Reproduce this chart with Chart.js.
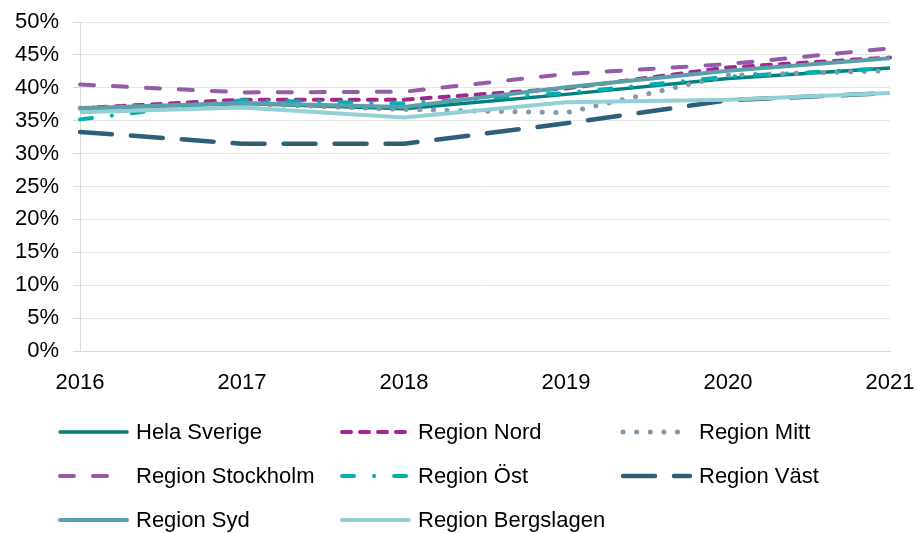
<!DOCTYPE html>
<html>
<head>
<meta charset="utf-8">
<script src="https://cdn.jsdelivr.net/npm/chart.js@4/dist/chart.umd.min.js"></script>
<style>
  html, body { margin: 0; padding: 0; background: #fff; }
  #wrap { width: 917px; height: 533px; }
</style>
</head>
<body>
<div id="wrap"><canvas id="chart" width="917" height="533"></canvas></div>
<script>
// Data (percent)
const years = ['2016', '2017', '2018', '2019', '2020', '2021'];
const helaSverige      = [36.8, 37.6, 36.8, 39.0, 41.4, 43.0];
const regionNord       = [36.9, 38.2, 38.2, 39.9, 43.1, 44.6];
const regionMitt       = [36.9, 37.6, 36.7, 36.2, 41.9, 42.6];
const regionStockholm  = [40.5, 39.3, 39.4, 42.1, 43.6, 46.0];
const regionOst        = [35.2, 38.1, 37.6, 39.2, 41.7, 43.0];
const regionVast       = [33.3, 31.5, 31.5, 34.6, 38.1, 39.2];
const regionSyd        = [36.9, 37.7, 37.1, 40.1, 42.6, 44.5];
const regionBergslagen = [36.3, 37.0, 35.5, 37.8, 38.2, 39.2];
const yTicks = [0, 5, 10, 15, 20, 25, 30, 35, 40, 45, 50];

const FONT = '"Liberation Sans", Arial, sans-serif';

function series(label, data, color, dash, width, order, swatchLen) {
    return {
        label, data,
        borderColor: color,
        backgroundColor: color,
        borderWidth: width,
        borderDash: dash,
        borderCapStyle: dash.length ? 'round' : 'butt',
        borderJoinStyle: 'round',
        pointRadius: 0,
        tension: 0,
        fill: false,
        order,
        swatchLen
    };
}

const datasets = [
    series('Hela Sverige', helaSverige, '#00807f', [], 3.5, 7, 69),
    series('Region Nord', regionNord, '#a3258f', [9, 9], 4, 6, 69),
    series('Region Mitt', regionMitt, '#7f9aab', [0.1, 13.5], 5, 5, 58),
    series('Region Stockholm', regionStockholm, '#955aa8', [14, 19], 4, 4, 50),
    series('Region Öst', regionOst, '#00b0b0', [12, 20, 0.1, 20], 4, 3, 69),
    series('Region Väst', regionVast, '#2c6079', [32, 19], 4.5, 2, 69),
    series('Region Syd', regionSyd, '#5aa0a8', [], 4, 1, 69),
    series('Region Bergslagen', regionBergslagen, '#92d0d5', [], 4, 0, 69)
];

// Legend laid out in a fixed 3-column grid like the original
const legendRows = [432, 476, 520];
const legendCols = [58, 340, 621];

const gridLegend = {
    id: 'gridLegend',
    afterDraw(chart) {
        const c = chart.ctx;
        chart.data.datasets.forEach((ds, i) => {
            const x = legendCols[i % 3];
            const y = legendRows[Math.floor(i / 3)];
            c.save();
            c.strokeStyle = ds.borderColor;
            c.lineWidth = ds.borderWidth;
            c.lineCap = 'round';
            c.setLineDash(ds.borderDash);
            c.beginPath();
            c.moveTo(x + 2, y);
            c.lineTo(x + ds.swatchLen, y);
            c.stroke();
            c.restore();

            c.save();
            c.fillStyle = '#000';
            c.font = '22px ' + FONT;
            c.textBaseline = 'middle';
            c.textAlign = 'left';
            c.fillText(ds.label, x + 78, y + 1);
            c.restore();
        });
    }
};

new Chart(document.getElementById('chart'), {
    type: 'line',
    data: { labels: years, datasets },
    options: {
        responsive: false,
        animation: false,
        layout: { padding: { left: 0, top: 22, right: 27, bottom: 137 } },
        plugins: {
            legend: { display: false },
            tooltip: { enabled: false }
        },
        scales: {
            x: {
                offset: false,
                grid: { display: false },
                border: { display: true, color: '#d9d9d9', width: 1 },
                ticks: {
                    color: '#000',
                    font: { family: FONT, size: 22 },
                    padding: 11,
                    maxRotation: 0
                },
                afterFit(scale) {
                    scale.height = 45;
                    scale.paddingLeft = 0;
                    scale.paddingRight = 0;
                }
            },
            y: {
                min: 0,
                max: 50,
                afterBuildTicks(scale) { scale.ticks = yTicks.map(v => ({ value: v })); },
                grid: {
                    color: '#e6e6e6',
                    lineWidth: 1,
                    drawTicks: true,
                    tickLength: 7,
                    tickColor: '#d9d9d9'
                },
                border: { display: true, color: '#d9d9d9', width: 1 },
                ticks: {
                    color: '#000',
                    font: { family: FONT, size: 22 },
                    padding: 14,
                    callback: v => v + '%'
                },
                afterFit(scale) {
                    scale.width = 80;
                    scale.paddingTop = 0;
                    scale.paddingBottom = 0;
                }
            }
        }
    },
    plugins: [gridLegend]
});
</script>
</body>
</html>
